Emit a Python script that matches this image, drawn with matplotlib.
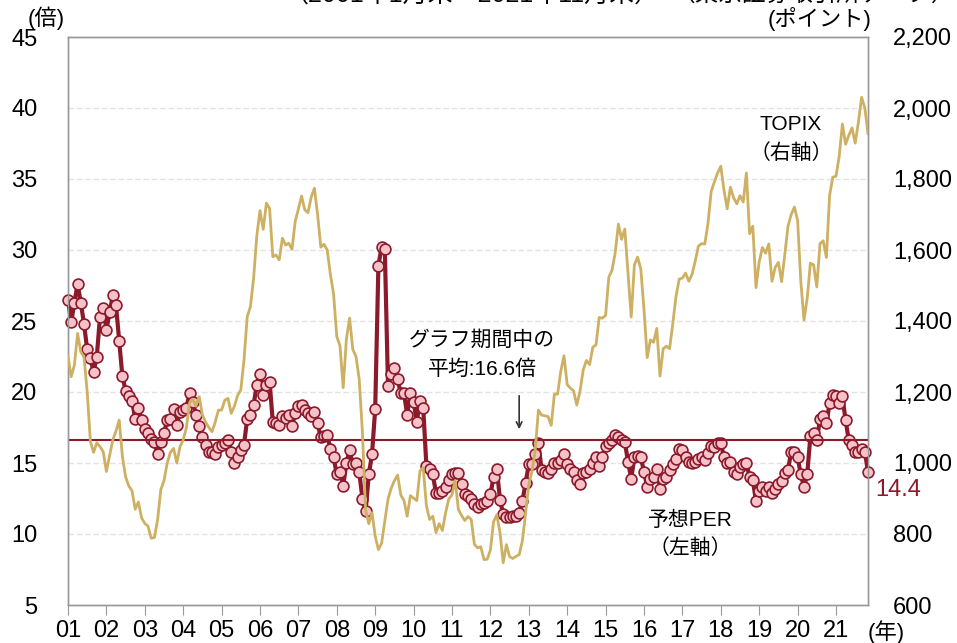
import matplotlib
matplotlib.use("Agg")
import matplotlib.pyplot as plt
import numpy as np

plt.rcParams['font.family'] = ['Liberation Sans', 'Noto Sans CJK JP']

# month-end values, Jan 2001 - Nov 2021 (one row per year)
per = [
    26.5, 24.9, 26.3, 27.6, 26.3, 24.8, 23.0, 22.4, 21.4, 22.5, 25.3, 25.9,
    24.4, 25.6, 26.8, 26.1, 23.6, 21.1, 20.1, 19.7, 19.4, 18.1, 18.9, 18.0,
    17.4, 17.1, 16.7, 16.5, 15.6, 16.5, 17.1, 18.0, 18.1, 18.8, 17.7, 18.6,
    18.7, 18.9, 19.9, 19.3, 18.4, 17.6, 16.8, 16.3, 15.8, 15.8, 15.6, 16.1,
    16.3, 16.4, 16.6, 15.8, 15.0, 15.4, 15.9, 16.3, 18.1, 18.4, 19.1, 20.5,
    21.3, 19.8, 20.5, 20.7, 17.9, 17.8, 17.7, 18.3, 18.2, 18.4, 17.6, 18.5,
    19.0, 19.1, 18.7, 18.5, 18.3, 18.6, 17.8, 16.8, 16.9, 17.0, 16.0, 15.4,
    14.2, 14.4, 13.4, 15.0, 15.9, 14.9, 15.0, 14.4, 12.5, 11.6, 14.2, 15.6,
    18.8, 28.9, 30.2, 30.1, 20.4, 21.3, 21.7, 20.9, 19.9, 19.9, 18.4, 19.9,
    19.3, 17.9, 19.4, 18.9, 14.8, 14.6, 14.2, 12.9, 12.9, 13.0, 13.3, 13.8,
    14.2, 14.3, 14.3, 13.5, 12.8, 12.7, 12.5, 12.1, 11.9, 12.1, 12.2, 12.3,
    12.8, 14.0, 14.6, 12.4, 11.4, 11.2, 11.2, 11.3, 11.3, 11.5, 12.3, 13.6,
    14.9, 14.9, 15.6, 16.4, 14.5, 14.4, 14.3, 14.6, 15.0, 15.0, 15.2, 15.6,
    14.9, 14.6, 14.4, 13.8, 13.5, 14.3, 14.4, 14.6, 15.0, 15.4, 14.8, 15.4,
    16.2, 16.4, 16.6, 17.0, 16.8, 16.6, 16.5, 15.1, 13.9, 15.4, 15.5, 15.4,
    14.4, 13.3, 13.9, 14.0, 14.6, 13.2, 13.9, 14.0, 14.5, 14.9, 15.3, 16.0,
    15.9, 15.4, 15.1, 15.0, 15.1, 15.3, 15.4, 15.2, 15.7, 16.2, 16.1, 16.4,
    16.4, 15.4, 15.0, 15.1, 14.4, 14.2, 14.7, 14.9, 15.0, 14.0, 13.8, 12.3,
    13.0, 13.3, 13.0, 13.3, 12.9, 13.2, 13.5, 13.7, 14.3, 14.5, 15.8, 15.8,
    15.4, 14.2, 13.3, 14.2, 16.9, 17.1, 16.6, 18.1, 18.3, 17.8, 19.2, 19.8,
    19.7, 19.2, 19.7, 18.0, 16.6, 16.3, 15.8, 15.8, 16.0, 15.8, 14.4,
]

topix = [
    1300, 1243, 1276, 1365, 1313, 1299, 1200, 1060, 1030, 1057, 1046, 1032,
    976, 1020, 1065, 1090, 1121, 1018, 961, 935, 922, 870, 890, 845,
    830, 822, 788, 790, 840, 925, 950, 1000, 1030, 1041, 1000, 1046,
    1065, 1100, 1170, 1180, 1160, 1187, 1135, 1115, 1100, 1088, 1115, 1149,
    1149, 1177, 1182, 1140, 1160, 1190, 1206, 1290, 1412, 1440, 1520, 1640,
    1711, 1658, 1732, 1717, 1581, 1586, 1572, 1633, 1614, 1619, 1602, 1680,
    1716, 1752, 1713, 1705, 1749, 1774, 1700, 1608, 1616, 1600, 1531, 1475,
    1356, 1330, 1212, 1349, 1408, 1320, 1300, 1236, 1087, 867, 829, 860,
    794, 756, 774, 837, 898, 929, 950, 966, 910, 894, 850, 908,
    901, 894, 978, 987, 880, 841, 850, 804, 829, 810, 860, 899,
    910, 951, 869, 852, 838, 849, 841, 771, 761, 764, 728, 729,
    755, 835, 854, 804, 719, 770, 736, 731, 737, 742, 781, 859,
    940, 976, 1035, 1149, 1135, 1133, 1131, 1106, 1194, 1194, 1259, 1302,
    1221, 1211, 1203, 1163, 1202, 1262, 1289, 1277, 1326, 1333, 1410, 1408,
    1416, 1523, 1543, 1592, 1673, 1630, 1659, 1537, 1411, 1558, 1580, 1547,
    1432, 1297, 1347, 1340, 1379, 1245, 1322, 1329, 1322, 1393, 1469, 1518,
    1521, 1535, 1512, 1531, 1568, 1611, 1618, 1617, 1675, 1765, 1792, 1817,
    1836, 1768, 1716, 1777, 1747, 1730, 1753, 1735, 1817, 1646, 1667, 1494,
    1567, 1607, 1591, 1617, 1512, 1551, 1565, 1511, 1587, 1667, 1700, 1721,
    1684, 1511, 1403, 1464, 1563, 1558, 1496, 1618, 1626, 1579, 1754, 1805,
    1808, 1864, 1955, 1898, 1923, 1944, 1901, 1960, 2030, 2001, 1928,
]

avg_per = 16.6
year_labels = ['%02d' % y for y in range(1, 22)]
left_ticks = [5, 10, 15, 20, 25, 30, 35, 40, 45]
right_ticks = [600, 800, 1000, 1200, 1400, 1600, 1800, 2000, 2200]

red = '#8B1A2B'
pink = '#F4C2C8'
gold = '#CDB062'

fig = plt.figure(figsize=(9.57, 6.43), dpi=100)
ax = fig.add_axes([68/957, 38/643, 800/957, 568/643])
months = np.arange(len(per))

for t in left_ticks[1:-1]:
    ax.axhline(t, color='#e3e3e3', lw=1, ls=(0, (4, 2)), zorder=0)

ax.plot(months, per, color=red, lw=3, marker='o', ms=7.8,
        mfc=pink, mec=red, mew=1.2, zorder=3, clip_on=False)
ax.axhline(avg_per, color=red, lw=1.5, zorder=4)

ax.set_xlim(0, len(per) - 1)
ax.set_ylim(5, 45)
ax.set_yticks(left_ticks)
ax.set_xticks(np.arange(0, len(per), 12))
ax.set_xticklabels(year_labels)
ax.tick_params(axis='y', length=0, labelsize=17, pad=22)
ax.tick_params(axis='x', length=7, color='#999999', labelsize=17, pad=4, direction='out')

ax2 = ax.twinx()
ax2.plot(months, topix, color=gold, lw=2, zorder=5)
ax2.set_ylim(600, 2200)
ax2.set_yticks(right_ticks)
ax2.set_yticklabels(['{:,}'.format(v) for v in right_ticks])
ax2.tick_params(axis='y', length=0, labelsize=17, pad=18)

for a in (ax, ax2):
    for s in a.spines.values():
        s.set_color('#999999')
        s.set_linewidth(1)

def ftext(x, y, s, **kw):
    fig.text(x/957, 1 - y/643, s, **kw)

ftext(46, 18, '(倍)', ha='center', va='center', fontsize=16)
ftext(820, 19, '(ポイント)', ha='center', va='center', fontsize=16)
ftext(886, 632, '(年)', ha='center', va='center', fontsize=16)

# top lines cut off by the frame
ftext(472, 2, '（2001年1月末～2021年11月末）', ha='center', va='baseline', fontsize=18)
ftext(813, 1, '（東京証券取引所データ）', ha='center', va='baseline', fontsize=17)

ftext(482, 340, 'グラフ期間中の', ha='center', va='center', fontsize=15)
ftext(482, 369, '平均:16.6倍', ha='center', va='center', fontsize=15)
ax.annotate('', xy=(0.5425, 1 - 432/643), xytext=(0.5425, 1 - 393/643),
            xycoords='figure fraction', textcoords='figure fraction',
            arrowprops=dict(arrowstyle='->', color='#333333', lw=1.2))

ftext(791, 125, 'TOPIX', ha='center', va='center', fontsize=15)
ftext(791, 153, '（右軸）', ha='center', va='center', fontsize=15)
ftext(690, 520, '予想PER', ha='center', va='center', fontsize=15)
ftext(690, 548, '（左軸）', ha='center', va='center', fontsize=15)

ftext(898, 490, '%.1f' % per[-1], ha='center', va='center', fontsize=17, color=red)

fig.savefig('out.png', dpi=100)
